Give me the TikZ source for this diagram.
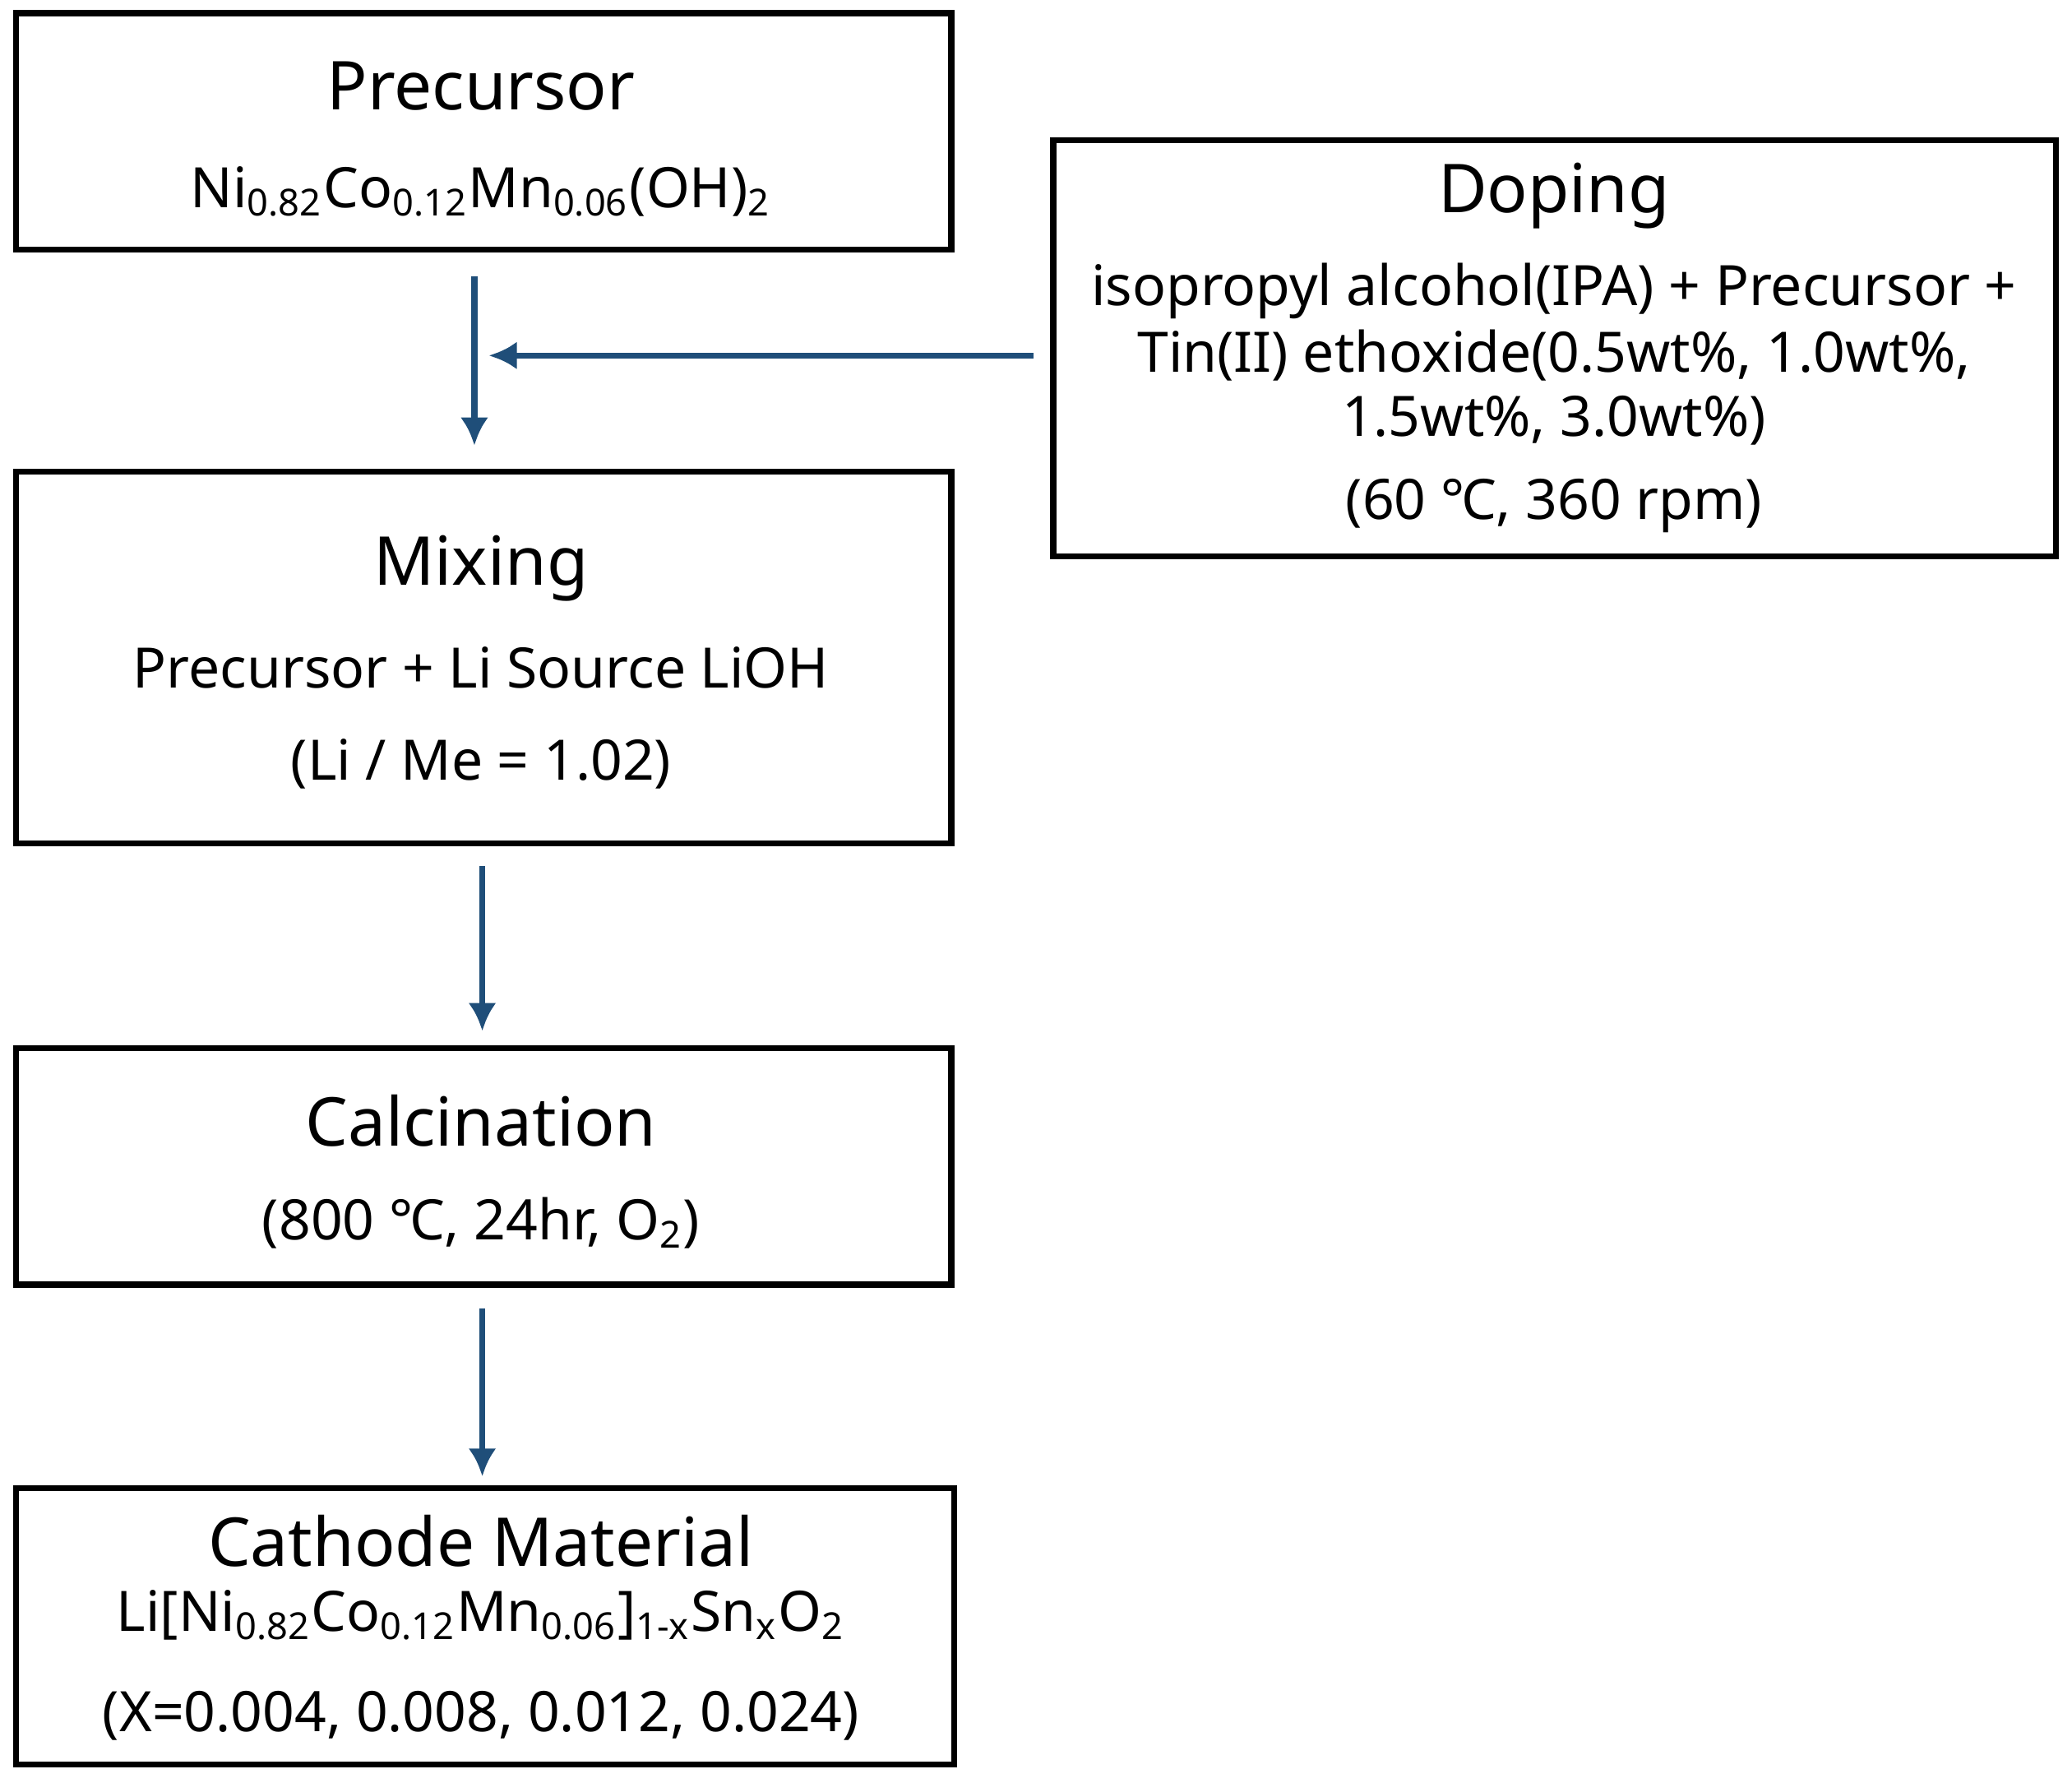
\documentclass[tikz,border=0pt]{standalone}
\usepackage{fontspec}
\usetikzlibrary{arrows.meta}
\setmainfont{Noto Sans}
\definecolor{arr}{RGB}{31,78,121}
\newcommand{\sbs}[1]{\textsubscript{#1}}
\begin{document}
\begin{tikzpicture}[x=0.01cm,y=-0.01cm,
 box/.style={draw=black,line width=1.3pt},
 ttl/.style={font=\bfseries\fontsize{14.5}{16}\selectfont},
 txt/.style={font=\bfseries\fontsize{12}{14}\selectfont},
 ar/.style={draw=arr,line width=1.3pt,-{Latex[length=6pt,width=6pt]}}]
\useasboundingbox (0,0) rectangle (1568,1349);
\draw[box] (12,10) rectangle (720,189);
\draw[box] (797,106) rectangle (1556,421);
\draw[box] (12,357) rectangle (720,638);
\draw[box] (12,793) rectangle (720,972);
\draw[box] (12,1126) rectangle (722,1335);
\node[ttl] (t1) at (364,65) {Precursor};
\node[txt] (f1) at (364,145) {Ni\sbs{0.82}Co\sbs{0.12}Mn\sbs{0.06}(OH)\sbs{2}};
\node[ttl] (t2) at (1176,148) {Doping};
\node[txt] (d1) at (1176,220) {isopropyl alcohol(IPA) + Precursor +};
\node[txt] (d2) at (1176,269) {Tin(II) ethoxide(0.5wt\%, 1.0wt\%,};
\node[txt] (d3) at (1176,318) {1.5wt\%, 3.0wt\%)};
\node[txt] (d4) at (1176,383) {(60 ℃, 360 rpm)};
\node[ttl] (t3) at (364,430) {Mixing};
\node[txt] (m1) at (364,505) {Precursor + Li Source LiOH};
\node[txt] (m2) at (364,578) {(Li / Me = 1.02)};
\node[ttl] (t4) at (364,848) {Calcination};
\node[txt] (c1) at (364,925) {(800 ℃, 24hr, O\sbs{2})};
\node[ttl] (t5) at (364,1166) {Cathode Material};
\node[txt] (k1) at (364,1222) {Li[Ni\sbs{0.82}Co\sbs{0.12}Mn\sbs{0.06}]\sbs{1-x}Sn\sbs{x}O\sbs{2}};
\node[txt] (k2) at (364,1298) {(X=0.004, 0.008, 0.012, 0.024)};
\coordinate (a1) at (359,209); \coordinate (a2) at (359,337);
\coordinate (h1) at (782,269); \coordinate (h2) at (370,269);
\coordinate (b1) at (365,655); \coordinate (b2) at (365,780);
\coordinate (c1s) at (365,990); \coordinate (c2) at (365,1117);
\draw[ar] (a1) -- (a2);
\draw[ar] (h1) -- (h2);
\draw[ar] (b1) -- (b2);
\draw[ar] (c1s) -- (c2);
\end{tikzpicture}
\end{document}
